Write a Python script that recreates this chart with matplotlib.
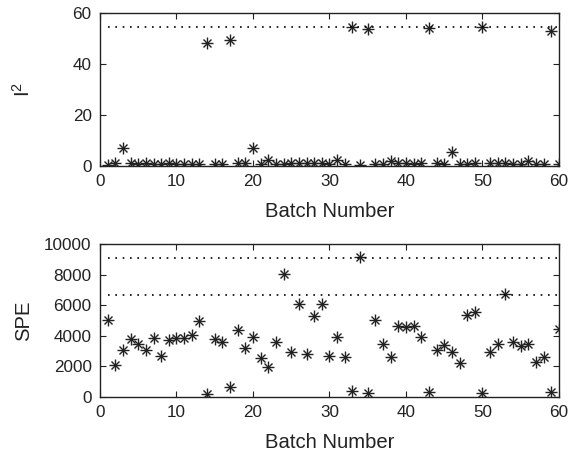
import numpy as np
import matplotlib
matplotlib.use('Agg')
import matplotlib.pyplot as plt

plt.rcParams['font.family'] = ['Liberation Sans', 'DejaVu Sans']
plt.rcParams['mathtext.default'] = 'regular'

batch = np.arange(1, 61)

t2 = [0.4, 1.0, 7.1, 1.3, 0.6, 1.0, 0.6, 0.6, 1.0, 0.6,
      0.6, 0.6, 0.6, 48.1, 0.6, 0.6, 49.4, 1.3, 1.0, 7.2,
      0.6, 2.2, 0.6, 0.6, 1.0, 1.0, 1.0, 1.0, 1.0, 0.6,
      2.3, 0.6, 54.6, 0.4, 53.6, 0.6, 0.6, 1.8, 1.3, 1.0,
      0.6, 1.0, 54.0, 1.0, 0.6, 5.5, 0.6, 0.6, 1.0, 54.4,
      1.0, 1.0, 1.0, 0.6, 0.6, 1.8, 0.6, 0.6, 53.1, 0.6]

spe = [5030, 2090, 3090, 3770, 3460, 3090, 3830, 2680, 3700, 3850,
       3850, 4030, 4970, 170, 3770, 3570, 650, 4360, 3220, 3940,
       2530, 1980, 3570, 8020, 2960, 6080, 2830, 5310, 6080, 2680,
       3940, 2590, 410, 9130, 240, 5050, 3460, 2610, 4640, 4580,
       4640, 3940, 350, 3090, 3400, 2920, 2240, 5340, 5530, 260,
       2960, 3460, 6710, 3620, 3310, 3480, 2260, 2610, 350, 4420]

t2_limit = 54.5
spe_limits = [9065, 6667]

fig = plt.figure(figsize=(5.7, 4.53), dpi=100)
ax1 = fig.add_axes([0.1754, 0.6336, 0.8053, 0.3377])
ax2 = fig.add_axes([0.1754, 0.1236, 0.8053, 0.3377])

# matlab style asterisk: plus and cross on top of each other
def asterisk(ax, x, y):
    ax.plot(x, y, marker='+', linestyle='none', color='#222222',
            markersize=9, markeredgewidth=1.0)
    ax.plot(x, y, marker='x', linestyle='none', color='#222222',
            markersize=6, markeredgewidth=1.0)

dot = dict(color='black', linewidth=1.2, dashes=[1, 3.4])

asterisk(ax1, batch, t2)
ax1.plot([1, 60], [t2_limit, t2_limit], **dot)
ax1.set_xlim(0, 60)
ax1.set_ylim(0, 60)
ax1.set_yticks([0, 20, 40, 60])
ax1.set_ylabel('I$^2$', fontsize=14.6)

asterisk(ax2, batch, spe)
for lim in spe_limits:
    ax2.plot([1, 60], [lim, lim], **dot)
ax2.set_xlim(0, 60)
ax2.set_ylim(0, 10000)
ax2.set_yticks([0, 2000, 4000, 6000, 8000, 10000])
ax2.set_ylabel('SPE', fontsize=14.6)

for ax in (ax1, ax2):
    ax.set_xticks([0, 10, 20, 30, 40, 50, 60])
    ax.set_xlabel('Batch Number', fontsize=14.6, labelpad=9, color='#222222')
    ax.yaxis.label.set_color('#222222')
    ax.yaxis.set_label_coords(-0.145, 0.5)
    ax.tick_params(direction='in', top=True, right=True, length=4,
                   labelsize=12.3, colors='#222222', pad=6)
    for s in ax.spines.values():
        s.set_linewidth(1.0)
        s.set_color('#222222')

fig.savefig('out.png', dpi=100)
